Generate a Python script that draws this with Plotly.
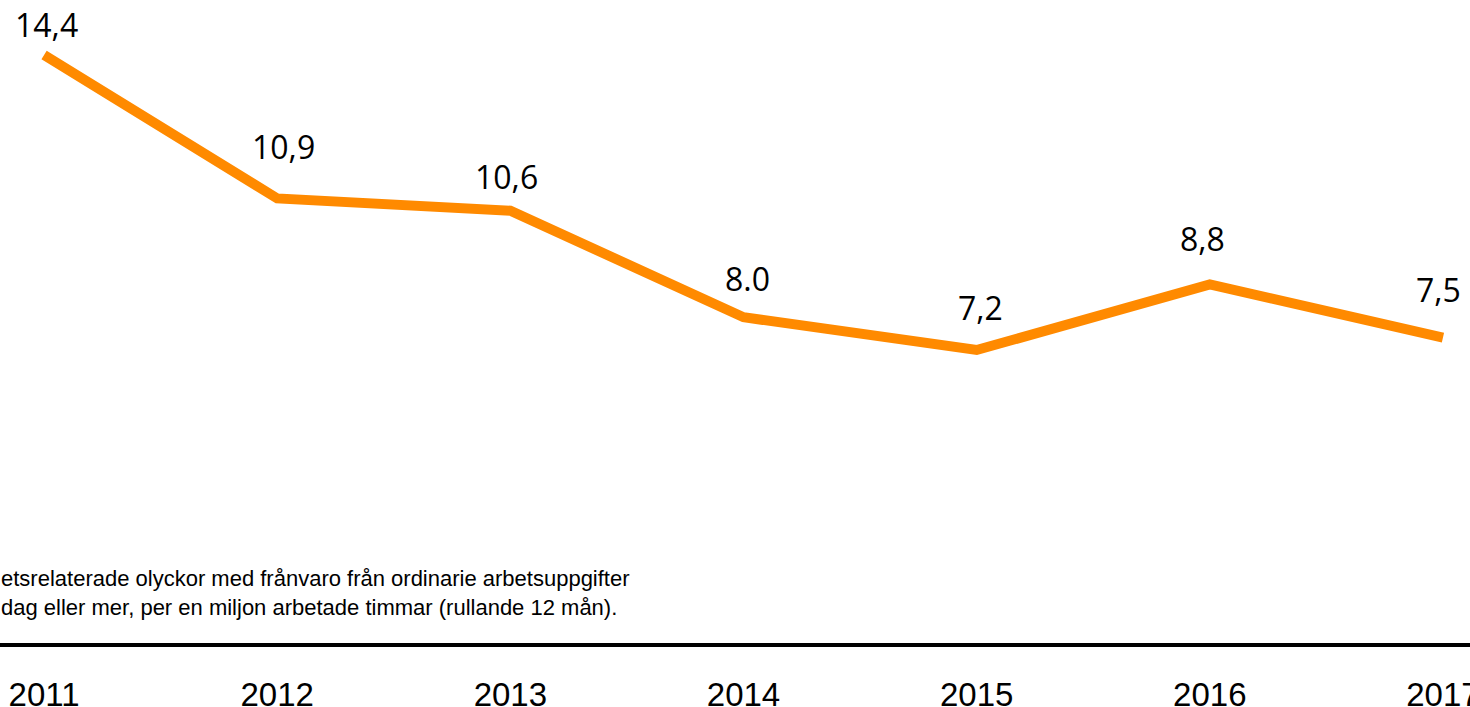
import plotly.graph_objects as go

years = [2011, 2012, 2013, 2014, 2015, 2016, 2017]
values = [14.4, 10.9, 10.6, 8.0, 7.2, 8.8, 7.5]
value_labels = ["14,4", "10,9", "10,6", "8.0", "7,2", "8,8", "7,5"]
tick_labels = ["2011", "2012", "2013", "2014", "2015", "2016", "2017"]
note_lines = [
    "etsrelaterade olyckor med frånvaro från ordinarie arbetsuppgifter",
    "dag eller mer, per en miljon arbetade timmar (rullande 12 mån).",
]

# label placement offsets (pixels)
label_xshift = [2, 6, -4, 4, 4, -7, -4]
label_yshift = [30, 52, 34, 39, 43, 46, 48]

fig = go.Figure()
fig.add_trace(go.Scatter(
    x=years, y=values, mode="lines",
    line=dict(color="#FF8A00", width=10),
    hoverinfo="skip", showlegend=False,
))

for x, y, t, dx, dy in zip(years, values, value_labels, label_xshift, label_yshift):
    fig.add_annotation(
        x=x, y=y, text=t, showarrow=False, xref="x", yref="y",
        xanchor="center", yanchor="middle", xshift=dx, yshift=dy,
        font=dict(family="Open Sans", size=32, color="#000000"),
    )

plot_h = 643
fig.add_annotation(
    x=0, y=(plot_h - 593) / plot_h, xref="paper", yref="paper", text="<br>".join(note_lines),
    showarrow=False, xanchor="left", yanchor="middle", align="left", xshift=-1,
    font=dict(family="Liberation Sans, Arial", size=22, color="#000000"),
)

fig.update_layout(
    template="none",
    width=1470, height=707,
    margin=dict(l=0, r=0, t=0, b=707 - plot_h, pad=0),
    paper_bgcolor="white", plot_bgcolor="white",
    xaxis=dict(
        range=[2010.811, 2017.116], tickmode="array", tickvals=years, ticktext=tick_labels,
        showline=True, linecolor="#000000", linewidth=4, showgrid=False, zeroline=False,
        ticks="", ticklabelstandoff=19, ticklabeloverflow="allow", automargin=False,
        tickfont=dict(family="Liberation Sans, Arial", size=33, color="#000000"),
    ),
    yaxis=dict(range=[0.049, 15.742], visible=False, showgrid=False, zeroline=False, automargin=False),
)

fig.write_html(
    "out.html",
    config={"displayModeBar": False},
    post_script="document.body.style.margin='0';document.body.style.overflow='hidden';",
)
